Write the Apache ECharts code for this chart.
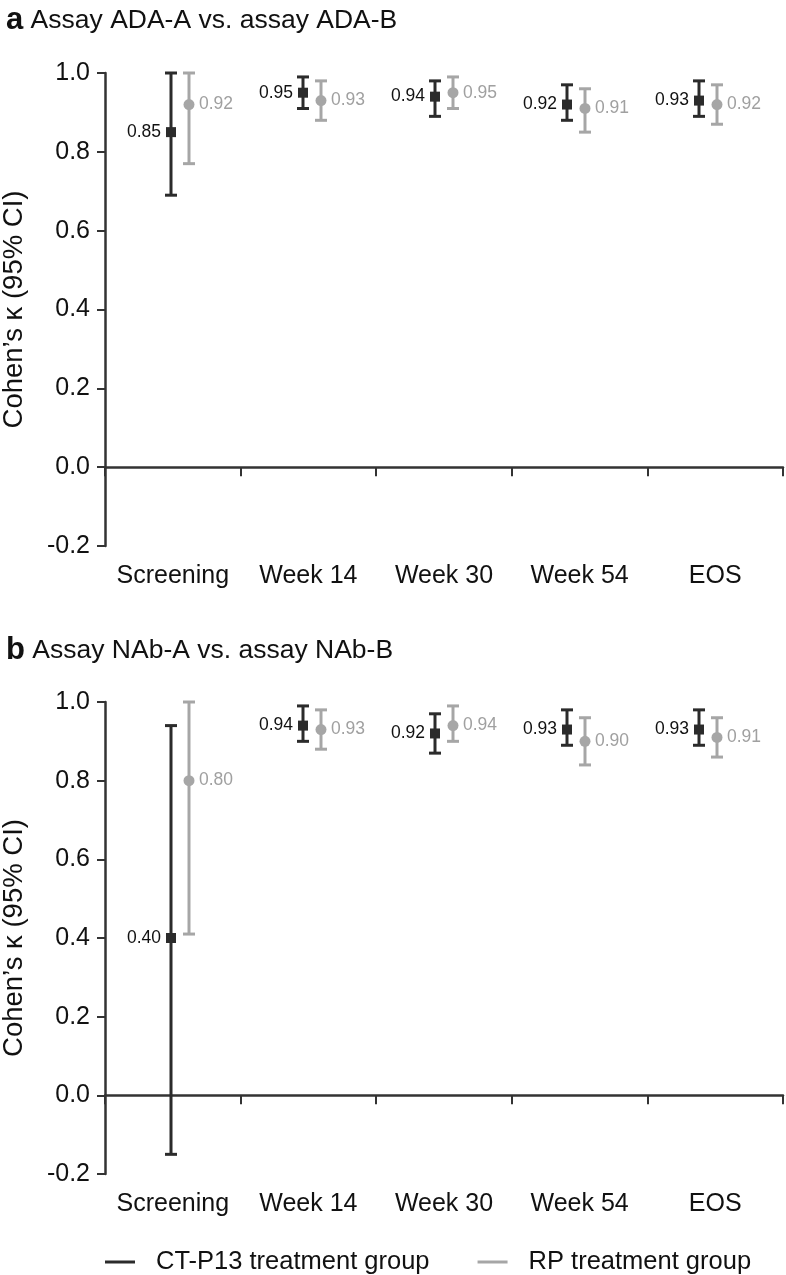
<!DOCTYPE html>
<html>
<head>
<meta charset="utf-8">
<script src="https://cdn.jsdelivr.net/npm/echarts@6/dist/echarts.min.js"></script>
<style>
  html, body { margin: 0; padding: 0; background: #fff; }
  #chart { width: 786px; height: 1275px; }
</style>
</head>
<body>
<div id="chart"></div>
<script>
const categories = ['Screening', 'Week 14', 'Week 30', 'Week 54', 'EOS'];
const yTicks = [-0.2, 0.0, 0.2, 0.4, 0.6, 0.8, 1.0];

// Panel a: Assay ADA-A vs. assay ADA-B
const adaCtValue = [0.85, 0.95, 0.94, 0.92, 0.93];
const adaCtLow   = [0.69, 0.91, 0.89, 0.88, 0.89];
const adaCtHigh  = [1.00, 0.99, 0.98, 0.97, 0.98];
const adaRpValue = [0.92, 0.93, 0.95, 0.91, 0.92];
const adaRpLow   = [0.77, 0.88, 0.91, 0.85, 0.87];
const adaRpHigh  = [1.00, 0.98, 0.99, 0.96, 0.97];

// Panel b: Assay NAb-A vs. assay NAb-B
const nabCtValue = [0.40, 0.94, 0.92, 0.93, 0.93];
const nabCtLow   = [-0.15, 0.90, 0.87, 0.89, 0.89];
const nabCtHigh  = [0.94, 0.99, 0.97, 0.98, 0.98];
const nabRpValue = [0.80, 0.93, 0.94, 0.90, 0.91];
const nabRpLow   = [0.41, 0.88, 0.90, 0.84, 0.86];
const nabRpHigh  = [1.00, 0.98, 0.99, 0.96, 0.96];

const CT_NAME = 'CT-P13 treatment group';
const RP_NAME = 'RP treatment group';
const BLACK = '#2b2b2b';
const GREY = '#a6a6a6';
const FONT = "'Liberation Sans', Arial, Helvetica, sans-serif";

function rows(v, lo, hi) {
  return v.map((d, i) => [i, d, lo[i], hi[i]]);
}

function errRender(color, labelColor, shape, side) {
  return function (params, api) {
    const i = api.value(0);
    const val = api.value(1);
    const c = api.coord([i, val]);
    const lo = api.coord([i, api.value(2)]);
    const hi = api.coord([i, api.value(3)]);
    const x = c[0] + side * 9;
    const cap = 6;
    const ls = { stroke: color, lineWidth: 3 };
    const marker = shape === 'square'
      ? { type: 'rect', shape: { x: x - 5, y: c[1] - 5, width: 10, height: 10 }, style: { fill: color } }
      : { type: 'circle', shape: { cx: x, cy: c[1], r: 5.5 }, style: { fill: color } };
    return {
      type: 'group',
      children: [
        { type: 'line', shape: { x1: x, y1: lo[1], x2: x, y2: hi[1] }, style: ls },
        { type: 'line', shape: { x1: x - cap, y1: hi[1], x2: x + cap, y2: hi[1] }, style: ls },
        { type: 'line', shape: { x1: x - cap, y1: lo[1], x2: x + cap, y2: lo[1] }, style: ls },
        marker,
        {
          type: 'text', x: x + side * 10, y: c[1],
          style: {
            text: val.toFixed(2), fill: labelColor, fontSize: 17.5, fontFamily: FONT,
            align: side < 0 ? 'right' : 'left', verticalAlign: 'middle'
          }
        }
      ]
    };
  };
}

const panels = [
  { top: 73, bottom: 729, title: 'Assay ADA-A vs. assay ADA-B', letter: 'a', titleTop: 0,
    ct: rows(adaCtValue, adaCtLow, adaCtHigh), rp: rows(adaRpValue, adaRpLow, adaRpHigh) },
  { top: 702, bottom: 101, title: 'Assay NAb-A vs. assay NAb-B', letter: 'b', titleTop: 630,
    ct: rows(nabCtValue, nabCtLow, nabCtHigh), rp: rows(nabRpValue, nabRpLow, nabRpHigh) }
];

const grid = [], xAxis = [], yAxis = [], series = [], title = [];
panels.forEach((p, k) => {
  const g0 = k * 2, g1 = k * 2 + 1;
  grid.push({ left: 105, right: 3, top: p.top, bottom: p.bottom, containLabel: false, outerBoundsMode: 'none' });
  grid.push({ left: 114, right: 12, top: p.top, bottom: p.bottom, containLabel: false, outerBoundsMode: 'none' });
  const xBase = xAxis.length;
  xAxis.push({
    type: 'category', gridIndex: g0, data: categories, boundaryGap: true, position: 'bottom',
    axisLine: { show: true, onZero: true, lineStyle: { color: '#333', width: 2.5 } },
    axisTick: { show: true, interval: 0, length: 9, lineStyle: { color: '#333', width: 2 } },
    axisLabel: { show: false }, splitLine: { show: false }
  });
  xAxis.push({
    type: 'category', gridIndex: g0, data: categories, boundaryGap: true, position: 'bottom',
    axisLine: { show: false, onZero: false }, axisTick: { show: false },
    axisLabel: { show: true, interval: 0, margin: 18, fontSize: 25, color: '#111', fontFamily: FONT },
    splitLine: { show: false }
  });
  xAxis.push({
    type: 'category', gridIndex: g1, data: categories, boundaryGap: true, show: false
  });
  const yBase = yAxis.length;
  yAxis.push({
    type: 'value', gridIndex: g0, min: yTicks[0], max: yTicks[yTicks.length - 1], interval: 0.2,
    axisLine: { show: true, onZero: false, lineStyle: { color: '#333', width: 2.5 } },
    axisTick: { show: true, length: 8, lineStyle: { color: '#333', width: 2 } },
    axisLabel: { margin: 15, fontSize: 25, color: '#111', fontFamily: FONT,
      formatter: v => v.toFixed(1) },
    splitLine: { show: false },
    name: 'Cohen’s κ (95% CI)', nameLocation: 'middle', nameGap: 77, nameRotate: 90,
    nameTextStyle: { fontSize: 27.5, color: '#111', fontFamily: FONT }
  });
  yAxis.push({
    type: 'value', gridIndex: g1, min: yTicks[0], max: yTicks[yTicks.length - 1], interval: 0.2, show: false
  });
  series.push({
    type: 'custom', name: CT_NAME, xAxisIndex: xBase + 2, yAxisIndex: yBase + 1,
    data: p.ct, itemStyle: { color: BLACK }, renderItem: errRender(BLACK, '#111', 'square', -1),
    clip: false, silent: true
  });
  series.push({
    type: 'custom', name: RP_NAME, xAxisIndex: xBase + 2, yAxisIndex: yBase + 1,
    data: p.rp, itemStyle: { color: GREY }, renderItem: errRender(GREY, '#a0a0a0', 'circle', 1),
    clip: false, silent: true
  });
  title.push({
    text: '{b|' + p.letter + '} ' + p.title, left: 1, top: p.titleTop,
    textStyle: { fontSize: 26.5, fontWeight: 'normal', color: '#111', fontFamily: FONT,
      rich: { b: { fontSize: 31, fontWeight: 'bold', color: '#111', fontFamily: FONT } } }
  });
});

const chart = echarts.init(document.getElementById('chart'), null, { renderer: 'canvas' });
chart.setOption({
  animation: false,
  backgroundColor: '#fff',
  textStyle: { fontFamily: FONT },
  title: title,
  grid: grid,
  xAxis: xAxis,
  yAxis: yAxis,
  legend: {
    left: 100, top: 1244, itemWidth: 30, itemHeight: 3, itemGap: 48,
    selectedMode: false,
    textStyle: { fontSize: 25.5, color: '#111', fontFamily: FONT, padding: [0, 0, 0, 16] },
    data: [
      { name: CT_NAME, icon: 'rect', itemStyle: { color: BLACK } },
      { name: RP_NAME, icon: 'rect', itemStyle: { color: GREY } }
    ]
  },
  series: series
});
</script>
</body>
</html>
